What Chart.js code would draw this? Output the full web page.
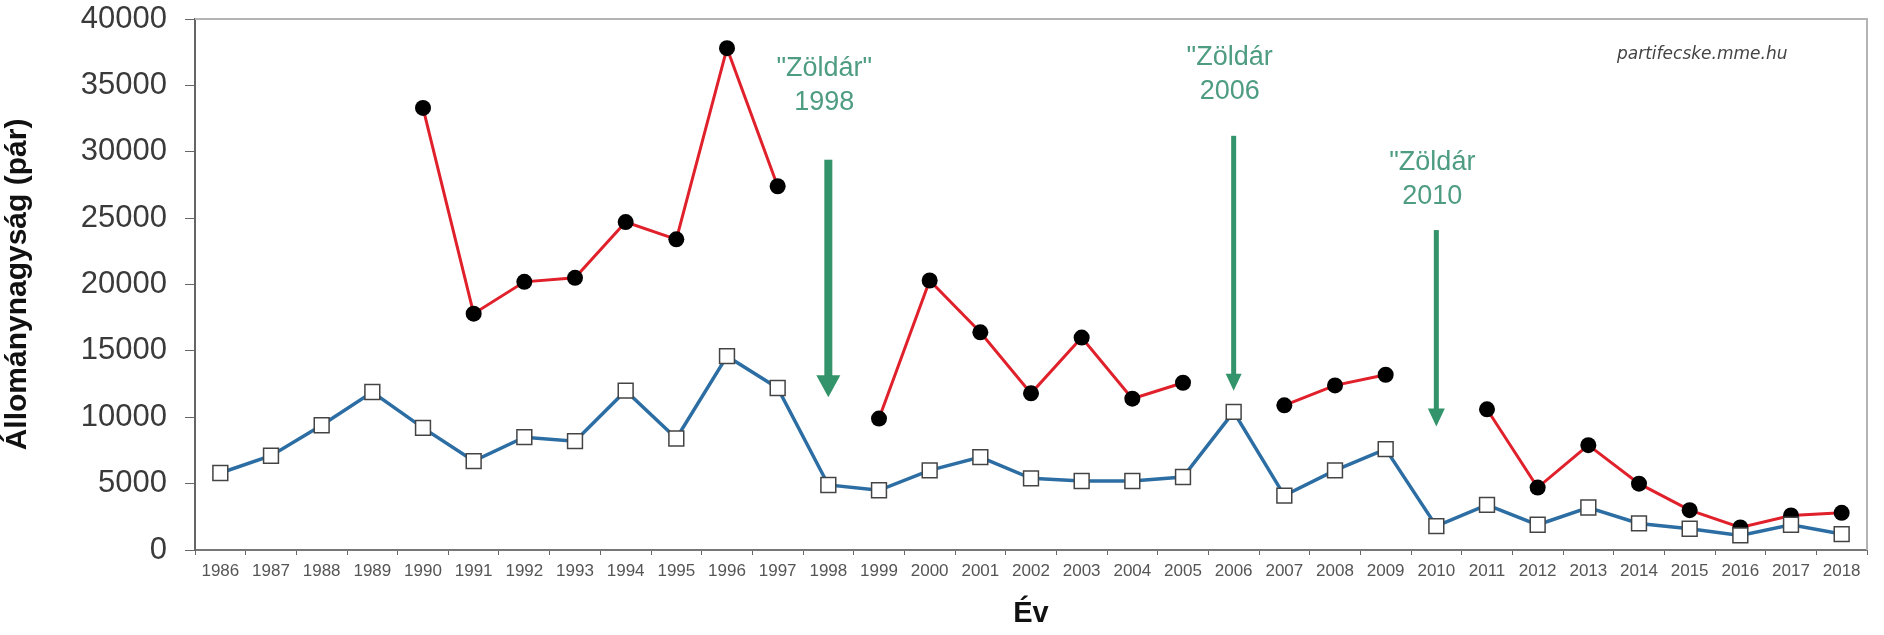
<!DOCTYPE html>
<html>
<head>
<meta charset="utf-8">
<script src="https://cdn.jsdelivr.net/npm/chart.js@4/dist/chart.umd.min.js"></script>
<style>
  html, body { margin: 0; padding: 0; background: #fff; }
  canvas { display: block; }
</style>
</head>
<body>
<canvas id="partifecskeChart" width="1884" height="635"></canvas>
<script>
// years on the x axis
const years = ['1986', '1987', '1988', '1989', '1990', '1991', '1992', '1993', '1994', '1995',
  '1996', '1997', '1998', '1999', '2000', '2001', '2002', '2003', '2004', '2005', '2006',
  '2007', '2008', '2009', '2010', '2011', '2012', '2013', '2014', '2015', '2016', '2017', '2018'];

// lower series (white squares, blue line)
const lowerSeries = [5800, 7100, 9400, 11900, 9200, 6700, 8500, 8200, 12000, 8400,
  14600, 12200, 4900, 4500, 6000, 7000, 5400, 5200, 5200, 5500, 10400,
  4100, 6000, 7600, 1800, 3400, 1900, 3200, 2000, 1600, 1100, 1900, 1200];

// upper series (black dots, red line) - gaps where there is no value
const upperSeries = [null, null, null, null, 33300, 17800, 20200, 20500, 24700, 23400,
  37800, 27400, null, 9900, 20300, 16400, 11800, 16000, 11400, 12600, null,
  10900, 12400, 13200, null, 10600, 4700, 7900, 5000, 3000, 1700, 2600, 2800];

const yMin = 0;
const yMax = 40000;
const yStep = 5000;

// "Zöldár" flood markers
const zoldarYears = ['1998', '2006', '2010'];
const zoldarLabels = [['"Zöldár"', '1998'], ['"Zöldár', '2006'], ['"Zöldár', '2010']];
const zoldarLabelTop = [36300, 37100, 29200];
const zoldarArrowFrom = [29400, 31200, 24100];
const zoldarArrowTo = [11500, 12000, 9300];

const arrowStyles = [
  { shaft: 8, head: 24, len: 22 },
  { shaft: 5, head: 16, len: 17 },
  { shaft: 5, head: 17, len: 18 }
];
const greenArrow = '#33936a';
const greenText = '#4e9c82';

const zoldarPlugin = {
  id: 'zoldar',
  afterDatasetsDraw(chart) {
    const { ctx, chartArea, scales: { x, y } } = chart;
    ctx.save();

    // top and right frame
    ctx.strokeStyle = '#b4b4b4';
    ctx.lineWidth = 2;
    ctx.beginPath();
    ctx.moveTo(chartArea.left, chartArea.top);
    ctx.lineTo(chartArea.right, chartArea.top);
    ctx.lineTo(chartArea.right, chartArea.bottom);
    ctx.stroke();

    zoldarYears.forEach((yr, i) => {
      const px = x.getPixelForValue(years.indexOf(yr));
      const top = y.getPixelForValue(zoldarArrowFrom[i]);
      const tip = y.getPixelForValue(zoldarArrowTo[i]);
      const st = arrowStyles[i];

      ctx.fillStyle = greenArrow;
      ctx.fillRect(px - st.shaft / 2, top, st.shaft, tip - st.len - top + 1);
      ctx.beginPath();
      ctx.moveTo(px - st.head / 2, tip - st.len);
      ctx.lineTo(px + st.head / 2, tip - st.len);
      ctx.lineTo(px, tip);
      ctx.closePath();
      ctx.fill();

      ctx.fillStyle = greenText;
      ctx.font = '27px "Liberation Sans", Arial, sans-serif';
      ctx.textAlign = 'center';
      ctx.textBaseline = 'middle';
      const ly = y.getPixelForValue(zoldarLabelTop[i]);
      zoldarLabels[i].forEach((line, j) => {
        ctx.fillText(line, px - 4, ly + j * 34);
      });
    });

    // source watermark
    ctx.fillStyle = '#444';
    ctx.font = 'italic 17px "DejaVu Sans", sans-serif';
    ctx.textAlign = 'left';
    ctx.textBaseline = 'middle';
    ctx.fillText('partifecske.mme.hu', chartArea.right - 250, chartArea.top + 36);

    ctx.restore();
  }
};

const ctx = document.getElementById('partifecskeChart').getContext('2d');
new Chart(ctx, {
  type: 'line',
  data: {
    labels: years,
    datasets: [{
      data: lowerSeries,
      borderColor: '#2c6ea3',
      borderWidth: 3.5,
      pointStyle: 'rect',
      pointRadius: 10.5,
      pointBackgroundColor: '#fff',
      pointBorderColor: '#444',
      pointBorderWidth: 1.5,
      tension: 0
    }, {
      data: upperSeries,
      borderColor: '#e0202a',
      borderWidth: 3,
      pointStyle: 'circle',
      pointRadius: 8,
      pointBackgroundColor: '#000',
      pointBorderColor: '#000',
      pointBorderWidth: 0,
      spanGaps: false,
      tension: 0
    }]
  },
  options: {
    responsive: false,
    animation: false,
    devicePixelRatio: 1,
    layout: { padding: { top: 19, right: 17, left: 0, bottom: 0 } },
    plugins: {
      legend: { display: false },
      tooltip: { enabled: false },
      title: { display: false }
    },
    scales: {
      x: {
        type: 'category',
        offset: true,
        grid: {
          offset: true,
          drawOnChartArea: false,
          drawTicks: true,
          tickLength: 5,
          color: '#666'
        },
        border: { display: true, color: '#777', width: 2 },
        ticks: {
          autoSkip: false,
          maxRotation: 0,
          padding: 6,
          color: '#555',
          font: { family: '"Liberation Sans", Arial, sans-serif', size: 17 }
        },
        title: {
          display: true,
          text: 'Év',
          color: '#111',
          padding: { top: 10 },
          font: { family: '"Liberation Sans", Arial, sans-serif', size: 29, weight: 'bold' }
        },
        afterFit(scale) { scale.height = 85; scale.paddingLeft = 0; scale.paddingRight = 0; }
      },
      y: {
        min: yMin,
        max: yMax,
        ticks: {
          stepSize: yStep,
          padding: 18,
          color: '#3a3a3a',
          font: { family: '"Liberation Sans", Arial, sans-serif', size: 31 },
          callback: (v) => String(v)
        },
        grid: {
          drawOnChartArea: false,
          drawTicks: true,
          tickLength: 10,
          color: '#666'
        },
        border: { display: true, color: '#666', width: 2 },
        title: {
          display: true,
          text: 'Állománynagyság (pár)',
          color: '#111',
          padding: { top: 0, bottom: 2 },
          font: { family: '"Liberation Sans", Arial, sans-serif', size: 30, weight: 'bold' }
        },
        afterFit(scale) { scale.width = 195; scale.paddingTop = 0; scale.paddingBottom = 0; }
      }
    }
  },
  plugins: [zoldarPlugin]
});
</script>
</body>
</html>
